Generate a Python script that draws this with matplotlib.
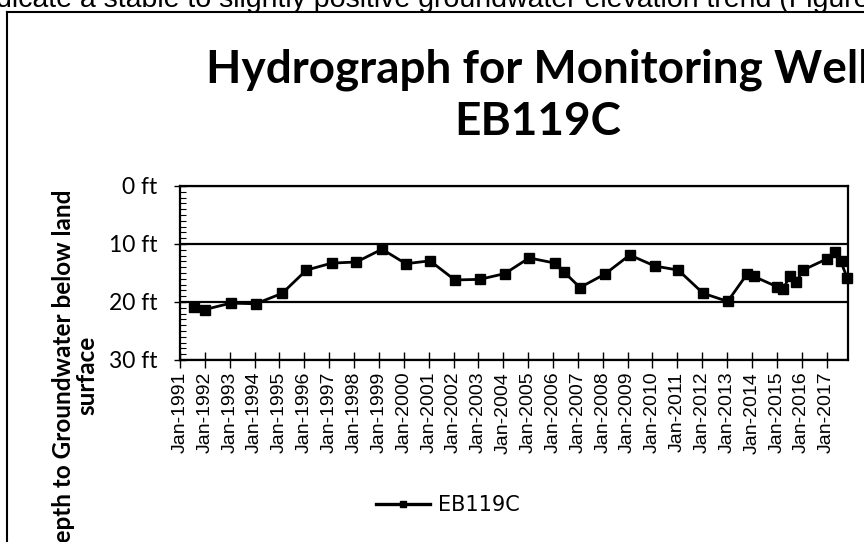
import datetime as dt

import matplotlib
matplotlib.use("Agg")
import matplotlib.pyplot as plt
import matplotlib.dates as mdates
from matplotlib.lines import Line2D
from matplotlib.ticker import MultipleLocator, FuncFormatter

# measured depth to groundwater, well EB119C
dates = ["1991-08-01", "1992-01-01", "1993-01-15", "1994-01-20", "1995-02-10",
         "1996-02-01", "1997-02-05", "1998-02-05", "1999-02-15", "2000-02-01",
         "2001-01-20", "2002-01-20", "2003-01-20", "2004-01-25", "2005-01-15",
         "2006-02-01", "2006-06-10", "2007-02-01", "2008-02-01", "2009-02-01",
         "2010-02-05", "2011-01-15", "2012-01-15", "2013-01-10", "2013-10-20",
         "2014-02-01", "2015-01-10", "2015-04-05", "2015-07-10", "2015-10-15",
         "2016-01-20", "2017-01-01", "2017-05-05", "2017-07-25", "2017-10-30"]
depth_ft = [20.8, 21.3, 20.2, 20.3, 18.5,
            14.5, 13.3, 13.1, 10.9, 13.4,
            12.9, 16.2, 16.1, 15.1, 12.4,
            13.3, 14.8, 17.5, 15.2, 11.9,
            13.8, 14.5, 18.5, 19.9, 15.2,
            15.6, 17.4, 17.8, 15.5, 16.5,
            14.5, 12.6, 11.3, 12.9, 15.8]
series_name = "EB119C"
y_ticks = [0, 10, 20, 30]

title = "Hydrograph for Monitoring Well\nEB119C"
ylabel = "Depth to Groundwater below land\nsurface"
body_text = "dicate a stable to slightly positive groundwater elevation trend (Figure"

x = [dt.datetime.strptime(d, "%Y-%m-%d") for d in dates]

W, H = 864, 542
fig = plt.figure(figsize=(W / 100, H / 100), dpi=100)
fig.patch.set_facecolor("white")

def px(xp, yp):
    return xp / W, 1 - yp / H

# plot area
l, b = px(180, 360)
r, t = px(848, 186)
ax = fig.add_axes([l, b, r - l, t - b])

ax.plot(x, depth_ft, color="black", lw=2.0, marker="s", ms=7,
        mfc="black", mec="black", label=series_name, clip_on=False, zorder=5)

ax.set_ylim(30, 0)
ax.set_yticks(y_ticks)
ax.yaxis.set_major_formatter(FuncFormatter(lambda v, p: "%d ft" % v))
ax.yaxis.set_minor_locator(MultipleLocator(1))
ax.yaxis.grid(True, which="major", color="black", lw=1.6)

ax.set_xlim(dt.datetime(1991, 1, 1), dt.datetime(2017, 11, 12))
ax.xaxis.set_major_locator(mdates.YearLocator(1, month=1, day=1))
ax.xaxis.set_major_formatter(mdates.DateFormatter("%b-%Y"))

for s in ax.spines.values():
    s.set_color("black")
    s.set_linewidth(1.6)

ax.tick_params(axis="y", which="major", direction="inout", length=9, width=1,
               labelsize=16.5, pad=12)
ax.tick_params(axis="y", which="minor", direction="in", length=4, width=0.8)
ax.tick_params(axis="x", which="major", direction="inout", length=11, width=1,
               labelsize=14, pad=3, labelrotation=90)
for lab in ax.get_yticklabels():
    lab.set_fontfamily("Lato")
for lab in ax.get_xticklabels():
    lab.set_fontfamily("Liberation Sans")

ax.set_ylabel(ylabel, fontsize=17.5, fontweight="bold", family="Lato",
              linespacing=1.05)
ax.yaxis.set_label_coords(75 / W, 1 - 375 / H, transform=fig.transFigure)
ax.yaxis.label.set_horizontalalignment("center")
ax.yaxis.label.set_verticalalignment("center")

# title
tx, ty = px(538, 96)
fig.text(tx, ty, title, ha="center", va="center", fontsize=33,
         fontweight="bold", family="Lato", linespacing=1.28)

# legend
leg = fig.legend(loc="center", bbox_to_anchor=px(448, 505), frameon=False,
                 prop={"family": "Liberation Sans Narrow", "size": 15},
                 handlelength=2.6, handletextpad=0.4, markerscale=0.6)
for h in leg.legend_handles:
    h.set_linewidth(2.4)

# chart border and the line of body text above it
fig.add_artist(Line2D([7 / W, 7 / W], [0, 1 - 12 / H], color="black", lw=1.5,
                      transform=fig.transFigure))
fig.add_artist(Line2D([7 / W, 1], [1 - 12 / H, 1 - 12 / H], color="black",
                      lw=1.5, transform=fig.transFigure))
fig.text(-4 / W, 1 - 7 / H, body_text, ha="left", va="baseline", fontsize=20.5,
         family="Liberation Sans")

fig.savefig("out.png", dpi=100)
